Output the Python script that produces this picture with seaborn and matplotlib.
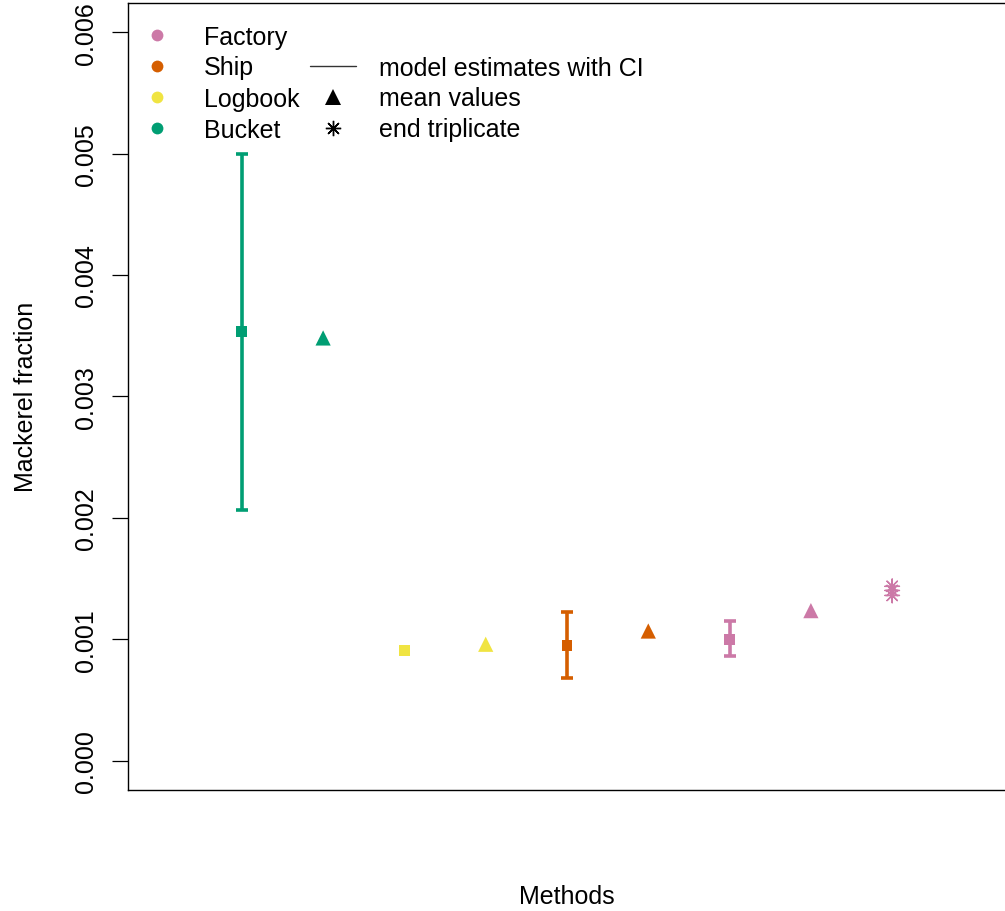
import numpy as np
import pandas as pd
import matplotlib
matplotlib.use("Agg")
import matplotlib.pyplot as plt
import seaborn as sns
from matplotlib.lines import Line2D

# ---- data -------------------------------------------------------------
methods = ["Bucket", "Logbook", "Ship", "Factory"]
model_est = [3.531e-3, 0.905e-3, 0.951e-3, 1.001e-3]
ci_low = [2.063e-3, np.nan, 0.680e-3, 0.858e-3]
ci_high = [4.998e-3, np.nan, 1.220e-3, 1.146e-3]
mean_vals = [3.481e-3, 0.958e-3, 1.067e-3, 1.235e-3]
triplicate_method = "Factory"
triplicate_vals = [1.435e-3, 1.401e-3, 1.360e-3]

palette = {"Factory": "#CC79A7", "Ship": "#D55E00",
           "Logbook": "#F0E442", "Bucket": "#009E73"}
legend_order = ["Factory", "Ship", "Logbook", "Bucket"]
y_ticks = [0.000, 0.001, 0.002, 0.003, 0.004, 0.005, 0.006]

# ---- tidy frames: model estimate and mean sit side by side per method --
idx = np.arange(len(methods))
model_df = pd.DataFrame({"method": methods, "pos": 2 * idx + 1,
                         "est": model_est, "lo": ci_low, "hi": ci_high})
mean_df = pd.DataFrame({"method": methods, "pos": 2 * idx + 2,
                        "value": mean_vals})
trip_df = pd.DataFrame({"method": triplicate_method,
                        "pos": 2 * len(methods) + 1,
                        "value": triplicate_vals})

# ---- figure -----------------------------------------------------------
sns.set_style("white")
plt.rcParams["font.family"] = ["Liberation Sans", "DejaVu Sans"]
plt.rcParams["text.color"] = "black"
plt.rcParams["axes.labelcolor"] = "black"
plt.rcParams["ytick.color"] = "black"

FS = 18
W, H = 1005, 912
fig = plt.figure(figsize=(W / 100, H / 100), dpi=100)
ax = fig.add_axes([128 / W, 1 - 790.7 / H, 878 / W, 786.7 / H])

# confidence intervals with flat caps
for _, r in model_df.dropna().iterrows():
    ax.errorbar(r["pos"], r["est"],
                yerr=[[r["est"] - r["lo"]], [r["hi"] - r["est"]]],
                fmt="none", ecolor=palette[r["method"]],
                elinewidth=2.6, capsize=4, capthick=2.6, zorder=2)

sns.scatterplot(data=model_df, x="pos", y="est", hue="method",
                palette=palette, marker="s", s=62, linewidth=0,
                legend=False, ax=ax, zorder=3)
sns.scatterplot(data=mean_df, x="pos", y="value", hue="method",
                palette=palette, marker="^", s=120, linewidth=0,
                legend=False, ax=ax, zorder=3)
sns.scatterplot(data=trip_df, x="pos", y="value", hue="method",
                palette=palette, marker=(8, 2, 0), s=110, linewidth=1.0,
                legend=False, ax=ax, zorder=3)

# ---- axes -------------------------------------------------------------
ax.set_xlim(-0.4, 10.4)
ax.set_ylim(-0.00024, 0.00624)
ax.set_xticks([])
ax.set_yticks(y_ticks)
ax.set_yticklabels([f"{t:.3f}" for t in y_ticks])
ax.tick_params(axis="y", left=True, length=11.5, width=0.9, pad=10,
               labelsize=FS, colors="black")
plt.setp(ax.get_yticklabels(), rotation=90, va="center", ha="right")
for s in ax.spines.values():
    s.set_color("black")
    s.set_linewidth(1.0)

ax.set_xlabel("Methods", fontsize=FS, va="center")
ax.set_ylabel("Mackerel fraction", fontsize=FS, va="center")
ax.xaxis.set_label_coords(0.5, -0.135)
ax.yaxis.set_label_coords(-0.1167, 0.5)

# ---- legend -----------------------------------------------------------
handles = [Line2D([], [], ls="none", marker="o", markersize=8.5,
                  markerfacecolor=palette[m], markeredgewidth=0, label=m)
           for m in legend_order]
handles += [
    Line2D([], [], ls="none", label=" "),
    Line2D([], [], color="#333333", lw=1.0, label="model estimates with CI"),
    Line2D([], [], ls="none", marker="^", markersize=11, color="black",
           markeredgewidth=0, label="mean values"),
    Line2D([], [], ls="none", marker=(8, 2, 0), markersize=11,
           color="black", markeredgewidth=1.0, label="end triplicate"),
]
fig.legend(handles=handles, ncol=2, loc="upper left",
           bbox_to_anchor=(134 / W, 1 - 25.5 / H), frameon=False,
           fontsize=FS, handlelength=1.84, handletextpad=0.94,
           columnspacing=0.42, labelspacing=0.28, borderpad=0,
           borderaxespad=0)

fig.savefig("out.png", dpi=100)
